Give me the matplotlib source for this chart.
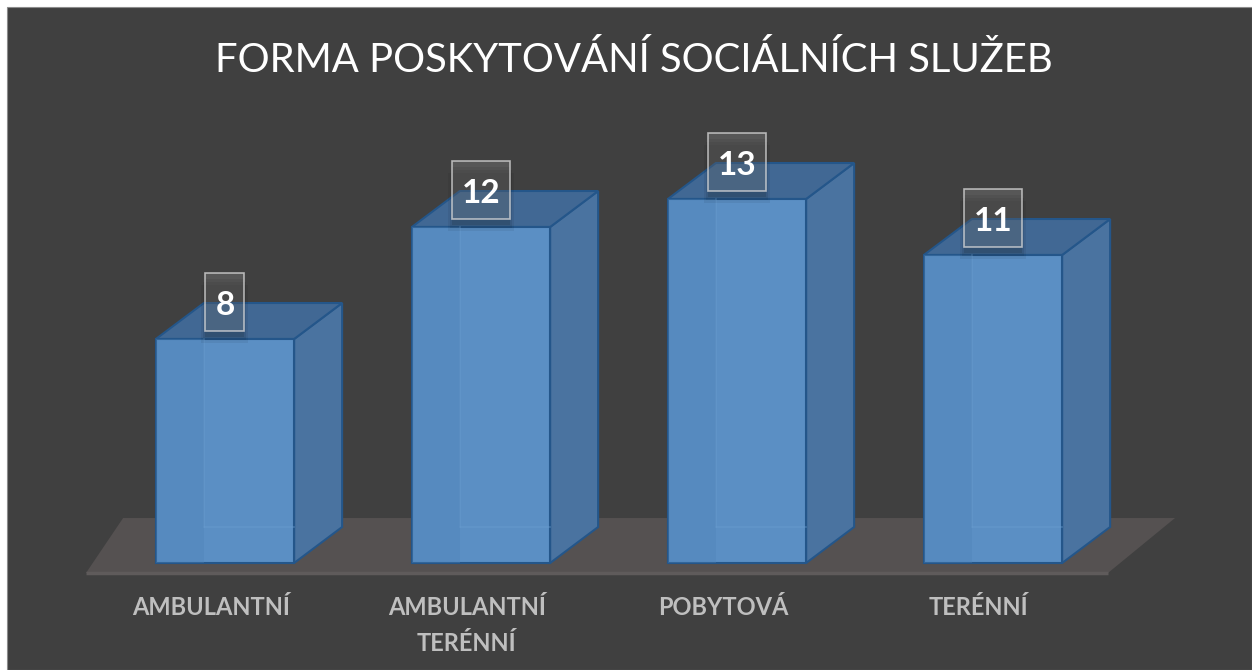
import matplotlib.pyplot as plt
from matplotlib.patches import Polygon, Rectangle
from matplotlib.transforms import IdentityTransform

# data
categories = ['AMBULANTNÍ', 'AMBULANTNÍ\nTERÉNNÍ', 'POBYTOVÁ', 'TERÉNNÍ']
values = [8, 12, 13, 11]
title = 'FORMA POSKYTOVÁNÍ SOCIÁLNÍCH SLUŽEB'

plt.rcParams['font.family'] = ['Lato', 'DejaVu Sans']

bg = '#404040'
front_c = '#5b8fc4'
side_c = '#4a73a0'
top_c = '#416894'
edge_c = '#24568a'

fig = plt.figure(figsize=(12.52, 6.70), dpi=100)
fig.patch.set_facecolor('white')
fig.patches.append(Rectangle((7 / 1252, 0), 1245 / 1252, 663 / 670,
                             transform=fig.transFigure, facecolor=bg,
                             edgecolor='#8c8c8c', linewidth=0.8, zorder=-10))

ax = fig.add_axes([0, 0, 1, 1])
ax.set_xlim(-0.8789, 4.0117)
ax.set_ylim(-3.821, 20.107)
ax.axis('off')
ax.patch.set_alpha(0)

w = 0.54      # bar width
dx = 0.1875   # depth offset x (data units)
dy = 1.2857   # depth offset y (data units)
n = len(values)
xs = list(range(n))

# floor
floor = Polygon([(-0.543, -0.357), (n - 1 + 0.449, -0.357),
                 (n - 1 + 0.711, 1.607), (-0.398, 1.607)],
                closed=True, facecolor='#555151', edgecolor='none', zorder=1)
ax.add_patch(floor)
ax.plot([-0.543, n - 1 + 0.449], [-0.357, -0.357], color='#5f5b5b', lw=2.5,
        zorder=1, solid_capstyle='butt')

for x, v in zip(xs, values):
    l, r = x - w / 2, x + w / 2
    side = Polygon([(r, 0), (r + dx, dy), (r + dx, v + dy), (r, v)],
                   closed=True, facecolor=side_c, edgecolor=edge_c, lw=1.5, zorder=3)
    top = Polygon([(l, v), (r, v), (r + dx, v + dy), (l + dx, v + dy)],
                  closed=True, facecolor=top_c, edgecolor=edge_c, lw=1.5, zorder=3)
    ax.add_patch(side)
    ax.add_patch(top)

ax.bar(xs, values, width=w, color=front_c, edgecolor=edge_c, linewidth=1.5, zorder=4)

pix = IdentityTransform()
for x, v in zip(xs, values):
    l, r = x - w / 2, x + w / 2
    # hidden back edges seen through the translucent bar
    ax.plot([l + dx, l + dx], [dy, v], color='#6a9dd0', lw=1.2, alpha=0.45, zorder=5)
    ax.plot([l + dx, r], [dy, dy], color='#6a9dd0', lw=1.2, alpha=0.45, zorder=5)
    ax.fill_between([l, l + dx], 0, v, color='#4f82b6', alpha=0.35, lw=0, zorder=5)

    # data label box (pixel sized)
    px, py = ax.transData.transform((x, v))
    bw = 20 + 19 * len(str(v))
    bh = 58
    by = py + 8
    for k, a in enumerate([0.10, 0.08, 0.06]):
        ax.add_artist(Rectangle((px - bw / 2 - 2 * k, by - 6 - 3 * k), bw + 4 * k, bh,
                                transform=pix, facecolor='black', alpha=a,
                                edgecolor='none', zorder=6))
    ax.add_artist(Rectangle((px - bw / 2, by), bw, bh, transform=pix,
                            facecolor=(1, 1, 1, 0.12),
                            edgecolor=(0.85, 0.85, 0.85, 0.75), lw=1.2, zorder=7))
    ax.text(px, by + bh / 2 - 12.5, str(v), transform=pix, ha='center',
            va='baseline', fontsize=24, fontweight='bold', color='white', zorder=8)

for x, lab in zip(xs, categories):
    ax.text(x - 0.055, -1.18, lab, ha='center', va='top', fontsize=17,
            fontweight='bold', color='#bfbfbf', linespacing=1.7, zorder=6)

fig.text(634 / 1252, 1 - 60 / 670, title, ha='center', va='center',
         fontsize=28.8, color='white')

fig.savefig('out.png', dpi=100, facecolor=fig.get_facecolor())
